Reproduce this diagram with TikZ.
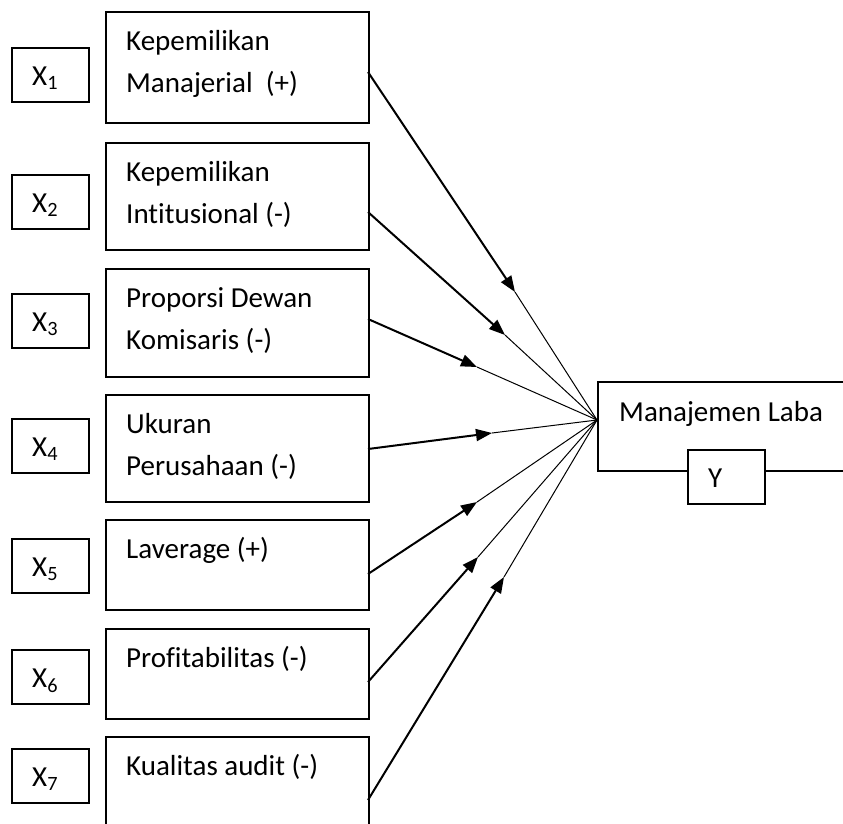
\documentclass[tikz,border=0pt]{standalone}
\usepackage{fontspec}
\setmainfont{Carlito}[Ligatures={NoCommon}]
\usetikzlibrary{arrows.meta}
\begin{document}
\begin{tikzpicture}[x=1pt,y=-1pt,
  box/.style={draw=black,line width=1.6pt,inner sep=0pt,anchor=north west},
  txt/.style={inner sep=0pt,anchor=base west,font=\fontsize{29}{41}\selectfont},
  feed/.style={line width=2pt,-{Triangle[length=16pt,width=12pt]}},
  tail/.style={line width=1pt}]
\useasboundingbox (0,0) rectangle (843,823);
\clip (0,0) rectangle (843,823);
% X boxes
\node[box,minimum width=77pt,minimum height=54pt] (x1) at (11,47) {};
\node[box,minimum width=77pt,minimum height=54pt] (x2) at (11,174) {};
\node[box,minimum width=77pt,minimum height=54pt] (x3) at (11,293) {};
\node[box,minimum width=77pt,minimum height=54pt] (x4) at (11,418) {};
\node[box,minimum width=77pt,minimum height=54pt] (x5) at (11,538) {};
\node[box,minimum width=77pt,minimum height=54pt] (x6) at (11,649) {};
\node[box,minimum width=77pt,minimum height=54pt] (x7) at (11,748) {};
\node[txt] (lx1) at (32,85) {X\textsubscript{1}};
\node[txt] (lx2) at (32,212) {X\textsubscript{2}};
\node[txt] (lx3) at (32,331) {X\textsubscript{3}};
\node[txt] (lx4) at (32,456) {X\textsubscript{4}};
\node[txt] (lx5) at (32,576) {X\textsubscript{5}};
\node[txt] (lx6) at (32,687) {X\textsubscript{6}};
\node[txt] (lx7) at (32,786) {X\textsubscript{7}};
% text boxes
\node[box,minimum width=263pt,minimum height=111pt] (t1) at (105,11) {};
\node[box,minimum width=263pt,minimum height=107pt] (t2) at (105,142) {};
\node[box,minimum width=263pt,minimum height=108pt] (t3) at (105,268) {};
\node[box,minimum width=263pt,minimum height=107pt] (t4) at (105,394) {};
\node[box,minimum width=263pt,minimum height=90pt] (t5) at (105,519) {};
\node[box,minimum width=263pt,minimum height=90pt] (t6) at (105,628) {};
\node[box,minimum width=263pt,minimum height=110pt] (t7) at (105,736) {};
\node[txt] (a1) at (126,50) {Kepemilikan};
\node[txt] (b1) at (126,92) {Manajerial\ \ (+)};
\node[txt] (a2) at (126,181) {Kepemilikan};
\node[txt] (b2) at (126,223) {Intitusional (-)};
\node[txt] (a3) at (126,307) {Proporsi Dewan};
\node[txt] (b3) at (126,349) {Komisaris (-)};
\node[txt] (a4) at (126,433) {Ukuran};
\node[txt] (b4) at (126,475) {Perusahaan (-)};
\node[txt] (a5) at (126,558) {Laverage (+)};
\node[txt] (a6) at (126,667) {Profitabilitas (-)};
\node[txt] (a7) at (126,775) {Kualitas audit (-)};
% target
\node[box,minimum width=260pt,minimum height=89pt] (ml) at (597,381) {};
\node[txt] (mlt) at (619,421) {Manajemen Laba};
\node[box,fill=white,minimum width=77pt,minimum height=54pt] (yb) at (687,449) {};
\node[txt] (yt) at (708,487) {Y};
% connectors
\coordinate (c) at (597,420);
\coordinate (s1) at (368,72);  \coordinate (m1) at (515,292);
\coordinate (s2) at (368,212); \coordinate (m2) at (505,335);
\coordinate (s3) at (368,319); \coordinate (m3) at (477,367);
\coordinate (s4) at (368,449); \coordinate (m4) at (492,433);
\coordinate (s5) at (368,574); \coordinate (m5) at (477,502);
\coordinate (s6) at (368,682); \coordinate (m6) at (478,557);
\coordinate (s7) at (368,800); \coordinate (m7) at (504,577);
\foreach \i in {1,...,7} {
  \draw[feed] (s\i) -- (m\i);
  \draw[tail] (m\i) -- (c);
}
\end{tikzpicture}
\end{document}
